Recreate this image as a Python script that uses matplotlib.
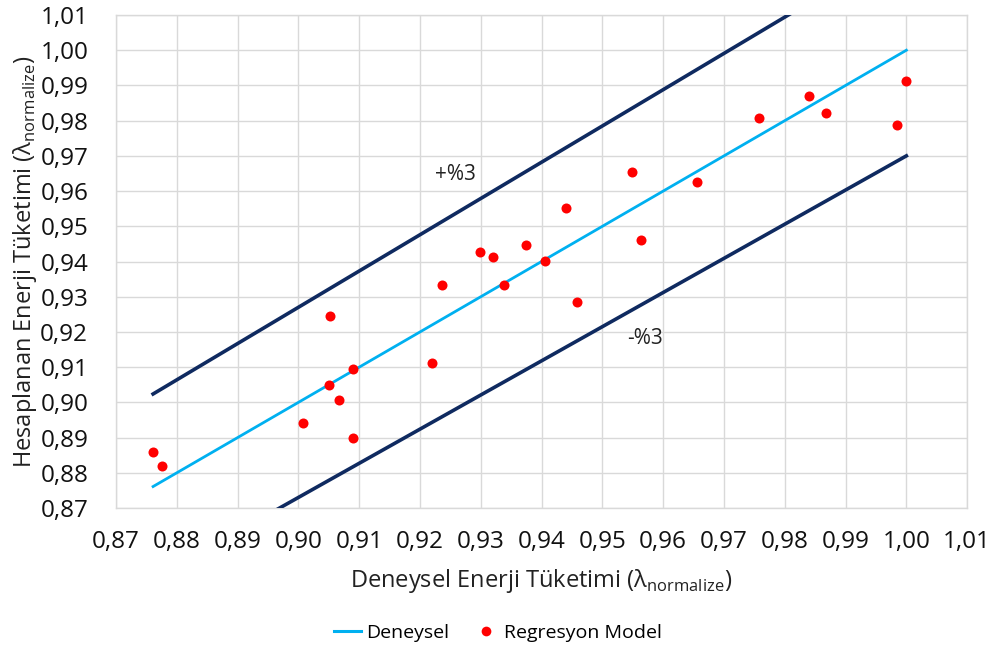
import matplotlib
matplotlib.use("Agg")
import matplotlib.pyplot as plt
from matplotlib.ticker import FuncFormatter, MultipleLocator
from matplotlib.lines import Line2D

# Data
deneysel = [0.8761, 0.8776, 0.9008, 0.9050, 0.9066, 0.9089, 0.9089, 0.9219, 0.9052,
            0.9236, 0.9298, 0.9320, 0.9338, 0.9374, 0.9406, 0.9440, 0.9458, 0.9549,
            0.9563, 0.9656, 0.9758, 0.9840, 0.9867, 0.9985, 0.9999]
regresyon = [0.8859, 0.8818, 0.8941, 0.9049, 0.9006, 0.9094, 0.8900, 0.9111, 0.9246,
             0.9332, 0.9426, 0.9413, 0.9333, 0.9447, 0.9402, 0.9553, 0.9286, 0.9653,
             0.9462, 0.9626, 0.9807, 0.9870, 0.9822, 0.9788, 0.9914]
line_x = [0.8761, 1.0]
upper_factor = 1.03
lower_factor = 0.97
tick_min, tick_max = 0.87, 1.01

plt.rcParams['font.family'] = ['Open Sans', 'DejaVu Sans']
plt.rcParams['mathtext.fontset'] = 'custom'
plt.rcParams['mathtext.rm'] = 'Open Sans'

fig = plt.figure(figsize=(9.94, 6.47), dpi=100)
ax = fig.add_axes([0.1167, 0.2148, 0.973 - 0.1167, 0.9768 - 0.2148])

navy = '#0f2a60'
blue = '#00b0f0'

ax.plot(line_x, line_x, color=blue, lw=2.0, zorder=3, label='Deneysel')
ax.plot(line_x, [v * upper_factor for v in line_x], color=navy, lw=2.6, zorder=3)
ax.plot(line_x, [v * lower_factor for v in line_x], color=navy, lw=2.6, zorder=3)
ax.scatter(deneysel, regresyon, s=52, color='#ff0000', zorder=4, linewidths=0,
           label='Regresyon Model')

ax.text(0.9259, 0.9648, '+%3', fontsize=15, ha='center', va='center', color='#222222')
ax.text(0.9570, 0.9182, '-%3', fontsize=15, ha='center', va='center', color='#222222')

ax.set_xlim(tick_min, tick_max)
ax.set_ylim(tick_min, tick_max)
ax.xaxis.set_major_locator(MultipleLocator(0.01))
ax.yaxis.set_major_locator(MultipleLocator(0.01))
fmt = FuncFormatter(lambda v, p: f"{v:.2f}".replace('.', ','))
ax.xaxis.set_major_formatter(fmt)
ax.yaxis.set_major_formatter(fmt)
ax.grid(True, color='#d9d9d9', lw=1.0, zorder=0)
ax.set_axisbelow(True)
for s in ax.spines.values():
    s.set_color('#d9d9d9')
    s.set_linewidth(1.0)
ax.tick_params(length=0, labelsize=17.5, colors='#111111', pad=16)
ax.tick_params(axis='y', pad=20)

ax.set_xlabel('Deneysel Enerji Tüketimi (λ$_{\\mathrm{normalize}}$)', fontsize=17, color='#222222')
ax.set_ylabel('Hesaplanan Enerji Tüketimi (λ$_{\\mathrm{normalize}}$)', fontsize=17, color='#222222')
ax.yaxis.set_label_coords(-0.090, 0.5)
ax.xaxis.set_label_coords(0.5, -0.120)

handles = [Line2D([0], [0], color=blue, lw=2.2),
           Line2D([0], [0], marker='o', color='none', markerfacecolor='#ff0000',
                  markeredgewidth=0, markersize=7)]
fig.legend(handles, ['Deneysel', 'Regresyon Model'], loc='center',
           bbox_to_anchor=(498 / 994, 1 - 633 / 647), ncol=2, frameon=False,
           fontsize=14, handlelength=1.4, handletextpad=0.25, columnspacing=1.2)

fig.savefig('out.png', dpi=100)
